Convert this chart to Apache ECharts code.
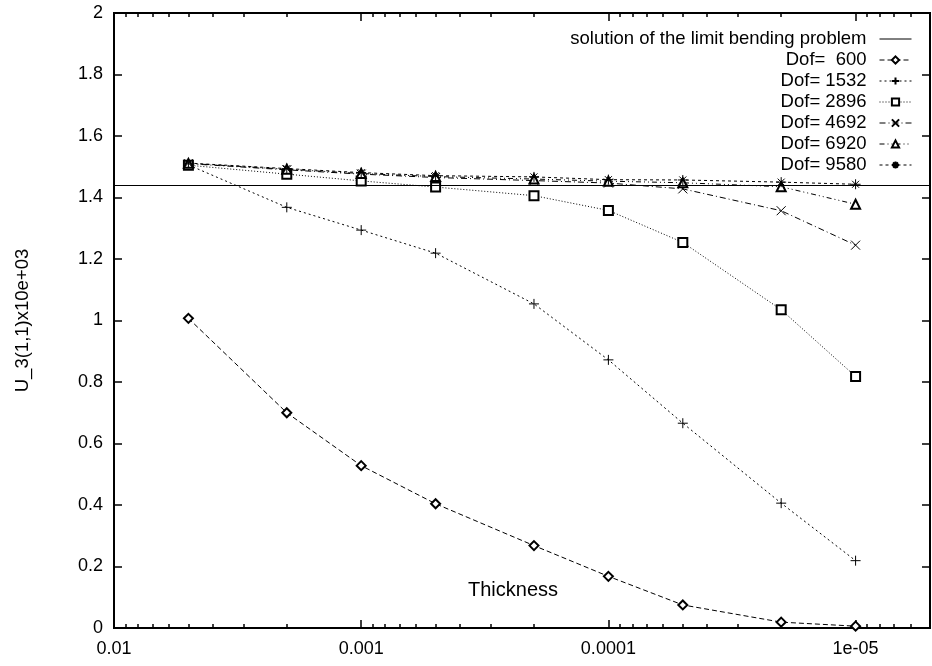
<!DOCTYPE html>
<html>
<head>
<meta charset="utf-8">
<script src="https://cdn.jsdelivr.net/npm/echarts@6/dist/echarts.min.js"></script>
<style>
html,body{margin:0;padding:0;background:#fff;}
#chart{width:932px;height:666px;}
</style>
</head>
<body>
<div id="chart"></div>
<script>
// thickness values (x, log scale, reversed)
var thickness = [0.005, 0.002, 0.001, 0.0005, 0.0002, 0.0001, 0.00005, 0.00002, 0.00001];
var dof600  = [1.007, 0.700, 0.528, 0.404, 0.268, 0.168, 0.075, 0.019, 0.006];
var dof1532 = [1.506, 1.368, 1.294, 1.219, 1.054, 0.872, 0.666, 0.406, 0.219];
var dof2896 = [1.505, 1.476, 1.454, 1.434, 1.406, 1.358, 1.254, 1.035, 0.818];
var dof4692 = [1.510, 1.490, 1.476, 1.465, 1.455, 1.447, 1.428, 1.357, 1.245];
var dof6920 = [1.511, 1.492, 1.478, 1.468, 1.460, 1.453, 1.448, 1.435, 1.378];
var dof9580 = [1.512, 1.494, 1.481, 1.471, 1.467, 1.458, 1.457, 1.450, 1.443];
var limitValue = 1.443;

var xMajorTicks = [0.01, 0.001, 0.0001, 0.00001];
var xMajorLabels = ['0.01', '0.001', '0.0001', '1e-05'];
var xMinorTicks = [
    0.009, 0.008, 0.007, 0.006, 0.005, 0.004, 0.003, 0.002,
    0.0009, 0.0008, 0.0007, 0.0006, 0.0005, 0.0004, 0.0003, 0.0002,
    0.00009, 0.00008, 0.00007, 0.00006, 0.00005, 0.00004, 0.00003, 0.00002,
    0.000009, 0.000008, 0.000007, 0.000006
];

var FONT = 'Liberation Sans';

function pairs(ys){
    var out = [];
    for (var i = 0; i < thickness.length; i++) out.push([thickness[i], ys[i]]);
    return out;
}

function xAx(pos, ticks, len, labels){
    return {
        type: 'log', position: pos, min: 0.000005, max: 0.01, inverse: true,
        axisLine: {show: false},
        splitLine: {show: false},
        minorTick: {show: false},
        axisTick: {show: true, inside: true, length: len, customValues: ticks,
            lineStyle: {color: '#000', width: 1.5}},
        axisLabel: labels ? {
            show: true, customValues: xMajorTicks, margin: 12,
            color: '#000', fontFamily: FONT, fontSize: 18,
            formatter: function(v){
                for (var i = 0; i < xMajorTicks.length; i++) {
                    if (Math.abs(Math.log10(v) - Math.log10(xMajorTicks[i])) < 1e-6) return xMajorLabels[i];
                }
                return '';
            }
        } : {show: false}
    };
}

function yAx(pos, labels){
    return {
        type: 'value', position: pos, min: 0, max: 2, interval: 0.2,
        axisLine: {show: false},
        splitLine: {show: false},
        axisTick: {show: true, inside: true, length: 8, lineStyle: {color: '#000', width: 1.5}},
        axisLabel: {show: labels, margin: 11, color: '#000', fontFamily: FONT, fontSize: 18}
    };
}

function dofSeries(name, ys, symbol, size, dash){
    return {
        name: name, type: 'line', xAxisIndex: 0, yAxisIndex: 0,
        data: pairs(ys),
        symbol: symbol, symbolSize: size,
        showAllSymbol: true,
        itemStyle: {color: '#000', borderColor: '#000', borderWidth: 1},
        lineStyle: {color: '#000', width: 1, type: dash},
        emphasis: {disabled: true},
        z: 3
    };
}

var plusPath = 'path://M0,5L10,5M5,0L5,10';
var crossPath = 'path://M0,0L10,10M10,0L0,10';
var starPath = 'path://M0,5L10,5M5,0L5,10M1.5,1.5L8.5,8.5M8.5,1.5L1.5,8.5';

var legendNames = ['solution of the limit bending problem', 'Dof=  600', 'Dof= 1532', 'Dof= 2896', 'Dof= 4692', 'Dof= 6920', 'Dof= 9580'];

var myChart = echarts.init(document.getElementById('chart'));
var option = {
    animation: false,
    backgroundColor: '#fff',
    grid: {left: 114, top: 13, right: 2, bottom: 38, show: true, borderColor: '#000', borderWidth: 2},
    xAxis: [
        xAx('bottom', xMajorTicks, 8, true),
        xAx('bottom', xMinorTicks, 4, false),
        xAx('top', xMajorTicks, 8, false),
        xAx('top', xMinorTicks, 4, false)
    ],
    yAxis: [
        Object.assign(yAx('left', true), {
            name: 'U_3(1,1)x10e+03', nameLocation: 'middle', nameGap: 82, nameRotate: 90,
            nameTextStyle: {color: '#000', fontFamily: FONT, fontSize: 18.5}
        }),
        yAx('right', false)
    ],
    graphic: [{
        type: 'text', left: 468, top: 580,
        style: {text: 'Thickness', fill: '#000', font: '20px "Liberation Sans"'}
    }],
    legend: {
        orient: 'vertical', align: 'right', right: 15, top: 24,
        itemWidth: 32, itemHeight: 9, itemGap: 1,
        lineStyle: {width: 1},
        textStyle: {color: '#000', fontFamily: FONT, fontSize: 18.5, lineHeight: 20, padding: [0, 8, 0, 0]},
        data: legendNames.map(function(n, i){
            return i === 0 ? {name: n, itemStyle: {opacity: 0}} : {name: n};
        })
    },
    series: [
        {
            name: legendNames[0], type: 'line', data: [],
            symbol: 'none', itemStyle: {color: '#000'},
            lineStyle: {color: '#000', width: 1, type: 'solid'},
            markLine: {
                silent: true, symbol: 'none', label: {show: false},
                lineStyle: {color: '#000', width: 1, type: 'solid'},
                data: [{yAxis: limitValue}]
            }
        },
        dofSeries(legendNames[1], dof600, 'emptyDiamond', 9, [5, 3]),
        dofSeries(legendNames[2], dof1532, plusPath, 10, [2, 3]),
        dofSeries(legendNames[3], dof2896, 'emptyRect', 9, [1, 2]),
        dofSeries(legendNames[4], dof4692, crossPath, 9, [6, 3, 1, 3]),
        dofSeries(legendNames[5], dof6920, 'emptyTriangle', 9, [5, 3, 1, 3, 1, 3]),
        dofSeries(legendNames[6], dof9580, starPath, 10, [3, 3])
    ]
};
myChart.setOption(option);
</script>
</body>
</html>
